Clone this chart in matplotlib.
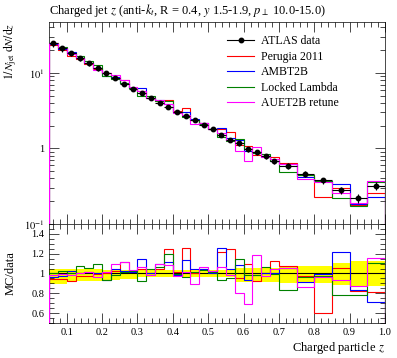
import numpy as np
import matplotlib
matplotlib.use('Agg')
import matplotlib.pyplot as plt
from matplotlib.lines import Line2D
from matplotlib.ticker import MultipleLocator, FixedLocator, FuncFormatter, LogLocator, NullFormatter

plt.rcParams['font.family'] = ['Liberation Serif', 'DejaVu Serif']
plt.rcParams['mathtext.fontset'] = 'stix'

# bin edges in z
edges = [0.05, 0.075, 0.1, 0.125, 0.15, 0.175, 0.2, 0.225, 0.25, 0.275,
         0.3, 0.325, 0.35, 0.375, 0.4, 0.425, 0.45, 0.475, 0.5, 0.525,
         0.55, 0.575, 0.6, 0.625, 0.65, 0.675, 0.7, 0.75, 0.8, 0.85,
         0.9, 0.95, 1.0]

# ATLAS data, 1/N dN/dz
data = [25.0, 21.5, 18.2, 15.5, 13.4, 11.5, 9.9, 8.5, 7.2, 6.2,
        5.4, 4.7, 4.0, 3.5, 3.05, 2.7, 2.35, 2.05, 1.78, 1.5,
        1.31, 1.17, 0.99, 0.89, 0.79, 0.69, 0.585, 0.46, 0.38, 0.28,
        0.22, 0.32]
# relative errors (up / down)
err_up = [0.05, 0.05, 0.05, 0.045, 0.044, 0.044, 0.04, 0.04, 0.04, 0.04,
          0.034, 0.034, 0.034, 0.034, 0.034, 0.034, 0.034, 0.034, 0.034, 0.034,
          0.034, 0.06, 0.06, 0.06, 0.06, 0.06, 0.08, 0.08, 0.08, 0.11,
          0.13, 0.13]
err_dn = [0.11, 0.11, 0.09, 0.08, 0.074, 0.074, 0.07, 0.065, 0.06, 0.06,
          0.035, 0.035, 0.035, 0.035, 0.035, 0.035, 0.035, 0.035, 0.035, 0.035,
          0.035, 0.09, 0.09, 0.09, 0.09, 0.09, 0.10, 0.10, 0.10, 0.12,
          0.13, 0.13]

# MC / data ratios
perugia = [0.94, 0.94, 0.92, 0.97, 0.97, 0.99, 1.00, 1.03, 1.12, 1.03,
           1.05, 1.00, 1.05, 1.25, 1.02, 1.26, 1.00, 1.05, 1.03, 1.22,
           1.25, 0.95, 1.10, 0.92, 1.00, 1.13, 1.08, 0.97, 0.60, 1.06,
           0.82, 0.81]
ambt2b = [0.96, 0.97, 1.03, 1.00, 1.02, 1.00, 0.93, 1.05, 1.03, 1.02,
          1.15, 1.00, 1.10, 1.12, 0.98, 1.14, 1.05, 1.05, 1.00, 1.26,
          1.05, 1.09, 0.93, 0.98, 1.00, 1.00, 1.06, 0.91, 0.99, 1.22,
          0.83, 0.71]
locked = [1.00, 1.03, 1.01, 1.08, 1.06, 1.10, 0.93, 0.98, 1.02, 1.03,
          0.92, 1.05, 1.07, 1.195, 0.99, 0.96, 1.02, 1.04, 1.02, 0.93,
          0.95, 1.145, 0.98, 0.98, 1.07, 0.99, 0.83, 0.96, 0.97, 0.78,
          0.78, 1.11]
auet2b = [0.98, 0.99, 0.98, 1.00, 1.02, 0.96, 1.02, 1.10, 1.12, 1.04,
          1.07, 0.98, 1.10, 1.09, 0.97, 1.02, 0.89, 1.07, 1.03, 1.07,
          0.98, 0.80, 0.69, 1.19, 0.97, 1.05, 1.06, 0.86, 0.96, 0.93,
          0.875, 1.16]

mc_names = ['Perugia 2011', 'AMBT2B', 'Locked Lambda', 'AUET2B retune']
mc_ratios = [perugia, ambt2b, locked, auet2b]
mc_colors = ['red', 'blue', 'green', 'magenta']

edges = np.array(edges)
data = np.array(data)
err_up = np.array(err_up)
err_dn = np.array(err_dn)
centers = 0.5 * (edges[1:] + edges[:-1])
halfw = 0.5 * (edges[1:] - edges[:-1])

fig = plt.figure(figsize=(3.97, 3.58), dpi=100)
ax = fig.add_axes([0.1234, 0.3743, 0.8463, 0.5642])
rax = fig.add_axes([0.1234, 0.0978, 0.8463, 0.2765], sharex=ax)

lw = 0.8
ax.errorbar(centers, data, xerr=halfw, yerr=[data * err_dn, data * err_up],
            fmt='o', ms=3.2, color='black', elinewidth=lw, capsize=0, zorder=5)
handles = [Line2D([], [], color='black', lw=lw, marker='o', ms=3.2)]
for name, r, c in zip(mc_names, mc_ratios, mc_colors):
    ax.stairs(data * np.array(r), edges, color=c, lw=lw, zorder=3)
    handles.append(Line2D([], [], color=c, lw=lw))
labels = ['ATLAS data'] + mc_names

ax.set_yscale('log')
ax.set_xlim(0.05, 1.0)
ax.set_ylim(0.1, 47)

def logfmt(v, pos):
    if abs(v - 1) < 1e-9:
        return '1'
    e = int(round(np.log10(v)))
    return r'$10^{%d}$' % e

ax.yaxis.set_major_locator(FixedLocator([0.1, 1, 10]))
ax.yaxis.set_major_formatter(FuncFormatter(logfmt))
ax.yaxis.set_minor_locator(LogLocator(base=10, subs=np.arange(2, 10)))
ax.yaxis.set_minor_formatter(NullFormatter())

ax.set_title(r'Charged jet $z$ (anti-$k_t$, R = 0.4, $y$ 1.5-1.9, $p_\perp$ 10.0-15.0)',
             loc='left', fontsize=9, pad=6)
ax.set_ylabel(r'$1/N_\mathrm{jet}\;\mathrm{d}N/\mathrm{d}z$', loc='top', fontsize=8.5)
ax.yaxis.set_label_coords(-0.09, 0.995)

ax.legend(handles, labels, loc='upper left', bbox_to_anchor=(0.53, 0.935),
          frameon=False, fontsize=8.5, handlelength=2.3, handletextpad=0.6,
          labelspacing=0.3, borderpad=0, borderaxespad=0)

# ratio panel
rax.stairs(1 + err_up, edges, baseline=1 - err_dn, fill=True, color='yellow', zorder=1)
rax.axhline(1.0, color='black', lw=lw, zorder=2)
for r, c in zip(mc_ratios, mc_colors):
    rax.stairs(r, edges, color=c, lw=lw, zorder=3)
rax.set_ylim(0.5, 1.5)
rax.yaxis.set_major_locator(FixedLocator([0.6, 0.8, 1.0, 1.2, 1.4]))
rax.yaxis.set_major_formatter(FuncFormatter(lambda v, p: '%g' % v))
rax.yaxis.set_minor_locator(MultipleLocator(0.05))
rax.xaxis.set_major_locator(MultipleLocator(0.1))
rax.xaxis.set_minor_locator(MultipleLocator(0.02))
rax.xaxis.set_major_formatter(FuncFormatter(lambda v, p: '%.1f' % v))
rax.set_ylabel('MC/data', fontsize=9)
rax.yaxis.set_label_coords(-0.095, 0.5)
rax.set_xlabel(r'Charged particle $z$', loc='right', fontsize=9, labelpad=2)

for a in (ax, rax):
    a.tick_params(which='both', direction='in', top=True, right=True,
                  labelsize=7.5, width=0.5)
    a.tick_params(which='major', length=7)
    a.tick_params(which='minor', length=3.5)
    for s in a.spines.values():
        s.set_linewidth(0.5)
ax.tick_params(labelbottom=False)

fig.savefig('out.png', dpi=100)
